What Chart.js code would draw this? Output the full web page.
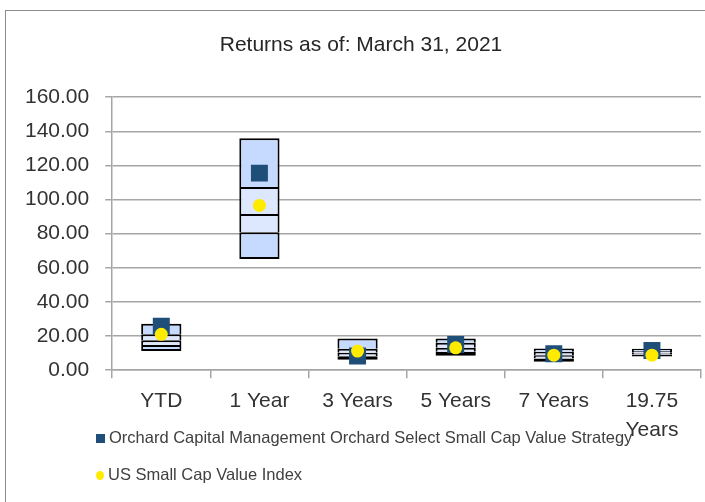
<!DOCTYPE html>
<html>
<head>
<meta charset="utf-8">
<script src="https://cdn.jsdelivr.net/npm/chart.js@4/dist/chart.umd.min.js"></script>
<style>
  body { margin: 0; background: #fff; }
  #wrap { position: relative; width: 705px; height: 502px; overflow: hidden; }
  #frame { position: absolute; left: 5px; top: 10px; width: 740px; height: 540px; border: 1.5px solid #8c8c8c; }
  canvas { position: absolute; left: 0; top: 0; }
  .leg { position: absolute; left: 96px; font: 16.5px 'Liberation Sans', Arial, sans-serif; color: #404040; white-space: nowrap; }
  .leg span { display: inline-block; margin-right: 4px; }
</style>
</head>
<body>
<div id="wrap">
  <div id="frame"></div>
  <canvas id="chart" width="713" height="502"></canvas>
  <div class="leg" style="top:428px"><span style="width:9px;height:9px;background:#1f4e79"></span>Orchard Capital Management Orchard Select Small Cap Value Strategy</div>
  <div class="leg" style="top:465px"><span style="width:8px;height:9px;border-radius:50%;background:#ffeb00"></span>US Small Cap Value Index</div>
</div>
<script>
// categories and values
const categories = ['YTD', '1 Year', '3 Years', '5 Years', '7 Years', ['19.75', 'Years']]
const pct95 = [27.2, 135.9, 18.6, 18.6, 12.7, 12.5]
const pct75 = [21.0, 107.3, 12.5, 16.1, 10.8, 11.3]
const pct50 = [17.5, 91.6, 10.2, 13.1, 8.8, 10.3]
const pct25 = [14.7, 80.8, 8.2, 10.8, 6.9, 9.2]
const pct5 = [11.2, 65.1, 6.1, 8.4, 4.9, 8.0]
const strategy = [25.8, 115.5, 8.3, 15.0, 9.7, 11.5]
const indexVals = [21.0, 96.6, 11.2, 13.1, 8.8, 8.8]
const yMin = 0, yMax = 160, yStep = 20

const outerFill = '#c6d9fe'
const innerFill = '#dde7fe'
const gridGray = '#a6a6a6'

// one segment of the range box; only the lowest one draws its bottom edge
function band(lo, hi, fill, isBottom) {
  return {
    type: 'bar',
    data: lo.map((v, i) => [v, hi[i]]),
    backgroundColor: fill,
    borderColor: '#000',
    borderWidth: { top: 2, left: 2, right: 2, bottom: isBottom ? 2 : 0 },
    borderSkipped: false,
    grouped: false,
    barPercentage: 0.41,
    categoryPercentage: 1,
    order: 3
  }
}

new Chart(document.getElementById('chart').getContext('2d'), {
  data: {
    labels: categories,
    datasets: [
      band(pct5, pct25, outerFill, true),
      band(pct25, pct50, innerFill),
      band(pct50, pct75, innerFill),
      band(pct75, pct95, outerFill),
      {
        type: 'line',
        label: 'Orchard Capital Management Orchard Select Small Cap Value Strategy',
        data: strategy,
        showLine: false,
        pointStyle: 'rect',
        pointRadius: 12,
        pointBorderWidth: 0,
        backgroundColor: '#1f4e79',
        borderColor: '#1f4e79',
        order: 1
      },
      {
        type: 'line',
        label: 'US Small Cap Value Index',
        data: indexVals,
        showLine: false,
        pointStyle: 'circle',
        pointRadius: 6.5,
        pointBorderWidth: 0,
        backgroundColor: '#ffeb00',
        borderColor: '#ffeb00',
        order: 0
      }
    ]
  },
  options: {
    responsive: false,
    animation: false,
    layout: { padding: { left: 9, right: 0, bottom: 49, top: 0 } },
    plugins: {
      legend: { display: false },
      tooltip: { enabled: false },
      title: {
        display: true,
        text: 'Returns as of: March 31, 2021',
        color: '#262626',
        font: { family: "'Liberation Sans', sans-serif", size: 21, weight: 'normal' },
        padding: { top: 33, bottom: 39 }
      }
    },
    scales: {
      x: {
        offset: true,
        grid: { drawOnChartArea: false, offset: true, color: gridGray, lineWidth: 1.5, tickLength: 8 },
        border: { color: gridGray, width: 1.5 },
        ticks: {
          color: '#333',
          padding: 8,
          maxRotation: 0,
          autoSkip: false,
          font: { family: "'Liberation Sans', sans-serif", size: 21, lineHeight: 1.4 }
        }
      },
      y: {
        min: yMin,
        max: yMax,
        grid: { color: gridGray, lineWidth: 1.5, tickLength: 7 },
        border: { color: gridGray, width: 1.5 },
        ticks: {
          stepSize: yStep,
          color: '#333',
          padding: 16,
          font: { family: "'Liberation Sans', sans-serif", size: 21 },
          callback: v => v.toFixed(2)
        }
      }
    }
  }
})
</script>
</body>
</html>
